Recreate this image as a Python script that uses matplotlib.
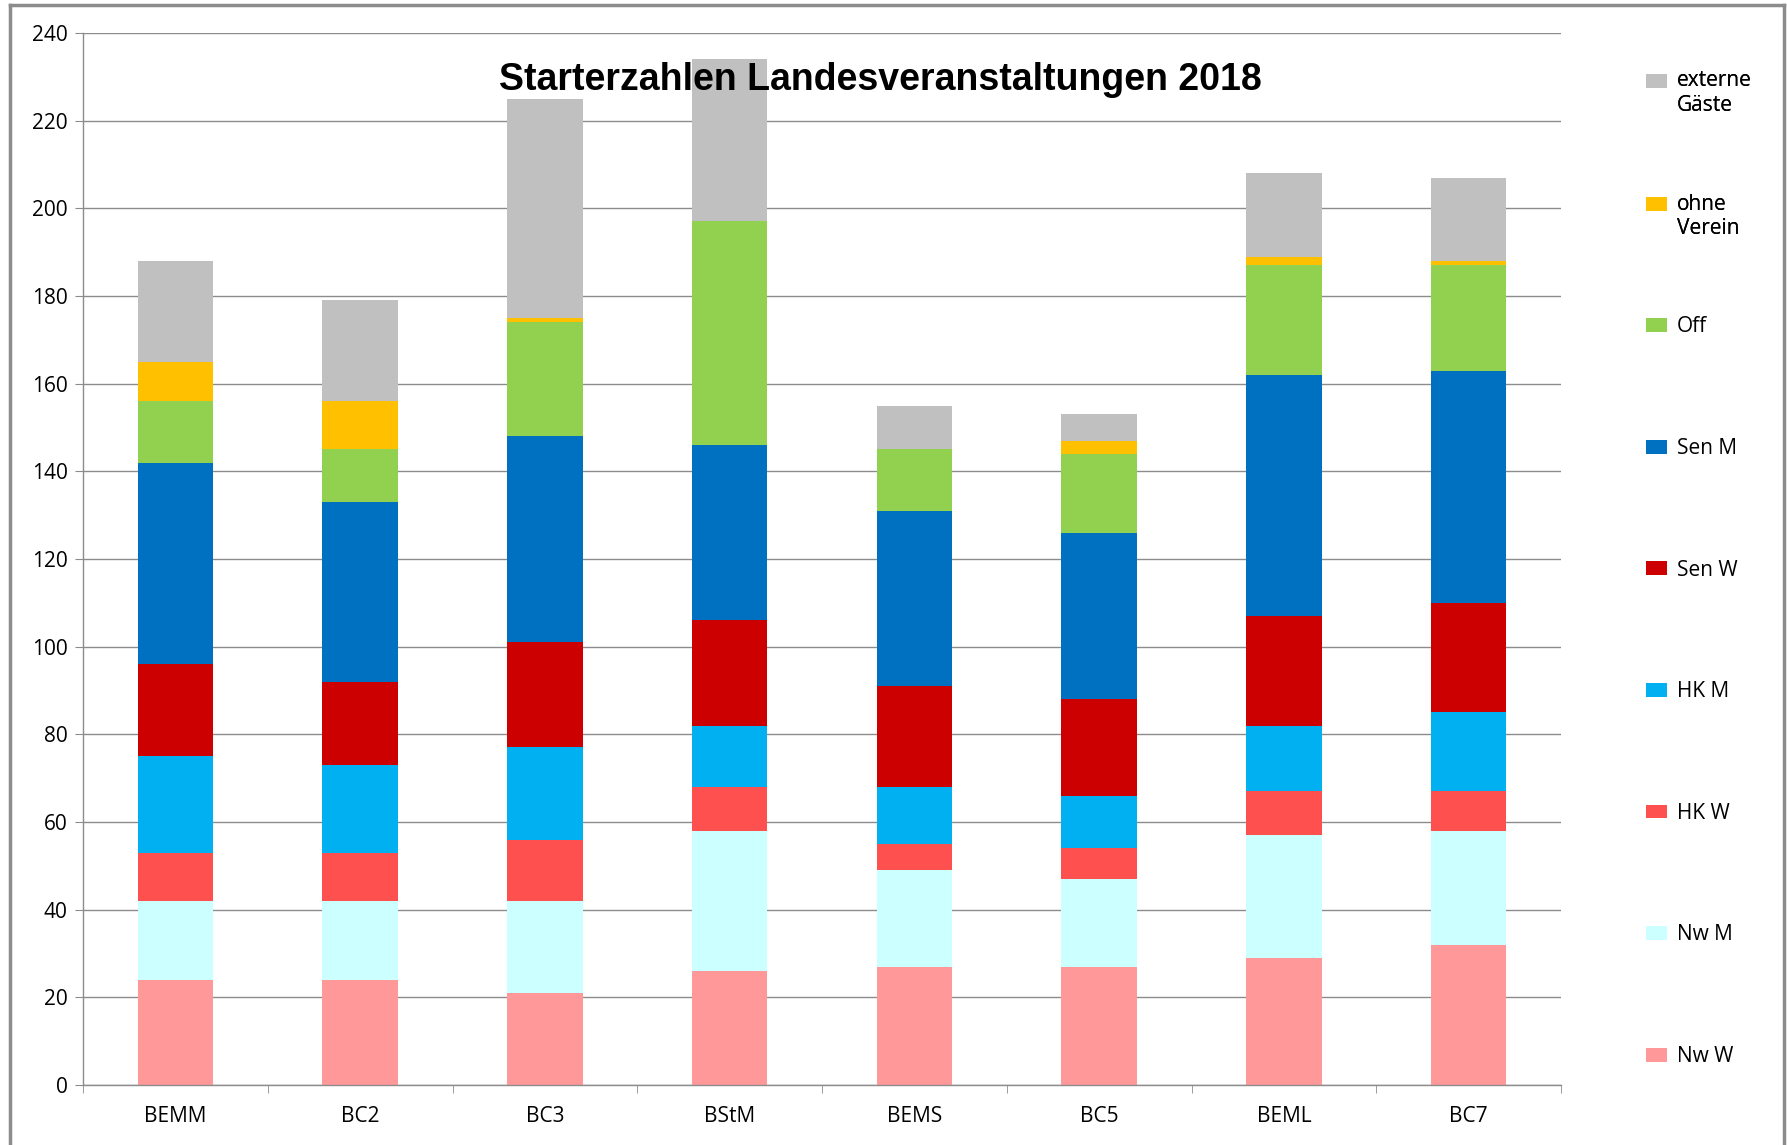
import matplotlib
matplotlib.use("Agg")
import matplotlib.pyplot as plt
from matplotlib.lines import Line2D
from matplotlib.patches import Patch, Rectangle
from matplotlib.legend_handler import HandlerPatch
import numpy as np

categories = ["BEMM", "BC2", "BC3", "BStM", "BEMS", "BC5", "BEML", "BC7"]
series_names = ["Nw W", "Nw M", "HK W", "HK M", "Sen W", "Sen M", "Off", "ohne\nVerein", "externe\nGäste"]
nw_w = [24, 24, 21, 26, 27, 27, 29, 32]
nw_m = [18, 18, 21, 32, 22, 20, 28, 26]
hk_w = [11, 11, 14, 10, 6, 7, 10, 9]
hk_m = [22, 20, 21, 14, 13, 12, 15, 18]
sen_w = [21, 19, 24, 24, 23, 22, 25, 25]
sen_m = [46, 41, 47, 40, 40, 38, 55, 53]
off = [14, 12, 26, 51, 14, 18, 25, 24]
ohne_verein = [9, 11, 1, 0, 0, 3, 2, 1]
externe_gaeste = [23, 23, 50, 37, 10, 6, 19, 19]
yticks = list(range(0, 241, 20))
title = "Starterzahlen Landesveranstaltungen 2018"

series = [nw_w, nw_m, hk_w, hk_m, sen_w, sen_m, off, ohne_verein, externe_gaeste]
colors = ["#FF9999", "#CCFFFF", "#FF5050", "#00B0F0", "#CC0000", "#0070C0", "#92D050", "#FFC000", "#C0C0C0"]

plt.rcParams['font.family'] = ['Open Sans', 'DejaVu Sans']
FS = 15

W, H = 1787, 1145
fig = plt.figure(figsize=(W / 100, H / 100), dpi=100)
ax = fig.add_axes([83 / W, 1 - 1085 / H, (1561 - 83) / W, (1085 - 33) / H])

x = np.arange(len(categories))
bottom = np.zeros(len(categories))
handles = []
for vals, name, col in zip(series, series_names, colors):
    ax.bar(x, vals, width=0.41, bottom=bottom, color=col, zorder=2, linewidth=0)
    bottom += np.array(vals)
    handles.append(Patch(facecolor=col, edgecolor='none', label=name))

ax.set_xlim(-0.5, len(categories) - 0.5)
ax.set_ylim(0, 240)
ax.set_yticks(yticks)
ax.set_yticklabels([str(v) for v in yticks], fontsize=FS)
ax.yaxis.grid(True, color="#8C8C8C", linewidth=1.0, zorder=0)
ax.set_axisbelow(True)
ax.set_xticks(x)
ax.set_xticklabels(categories, fontsize=FS)
ax.set_xticks(np.arange(-0.5, len(categories)), minor=True)
ax.tick_params(axis='x', which='major', length=0, pad=15)
ax.tick_params(axis='x', which='minor', length=6, color="#8C8C8C", direction='out')
ax.tick_params(axis='y', length=6, color="#8C8C8C", direction='out', pad=5)
for s in ["top", "right"]:
    ax.spines[s].set_visible(False)
for s in ["left", "bottom"]:
    ax.spines[s].set_color("#8C8C8C")
    ax.spines[s].set_linewidth(1.0)

fig.text(880 / W, 1 - 80 / H, title, ha='center', va='center', fontsize=27,
         fontweight='bold', family=['Liberation Sans Narrow', 'Liberation Sans', 'DejaVu Sans'], zorder=5)


def top_line_patch(legend, orig_handle, xdescent, ydescent, width, height, fontsize):
    # place the swatch beside the first line of a two-line label
    return Rectangle((-xdescent, -ydescent + 0.6 * fontsize), width, height)


rev = handles[::-1]
leg_a = fig.legend(handles=rev[:2], loc='upper left', bbox_to_anchor=(1638 / W, 1 - 62 / H),
                   frameon=False, fontsize=FS, handlelength=1.0, handleheight=0.65,
                   handletextpad=0.45, labelspacing=3.75, borderaxespad=0,
                   handler_map={Patch: HandlerPatch(patch_func=top_line_patch)})
fig.add_artist(leg_a)
leg_b = fig.legend(handles=rev[2:], loc='upper left', bbox_to_anchor=(1638 / W, 1 - 308 / H),
                   frameon=False, fontsize=FS, handlelength=1.0, handleheight=0.65,
                   handletextpad=0.45, labelspacing=4.83, borderaxespad=0)

# outer chart border (top, left, right)
bc = "#8C8C8C"
fig.add_artist(Line2D([10 / W, 10 / W], [0, 1 - 5 / H], transform=fig.transFigure, color=bc, lw=2.5))
fig.add_artist(Line2D([1784 / W, 1784 / W], [0, 1 - 5 / H], transform=fig.transFigure, color=bc, lw=2.5))
fig.add_artist(Line2D([10 / W, 1784 / W], [1 - 5 / H, 1 - 5 / H], transform=fig.transFigure, color=bc, lw=2.5))

fig.savefig("out.png", dpi=100, facecolor="white")
